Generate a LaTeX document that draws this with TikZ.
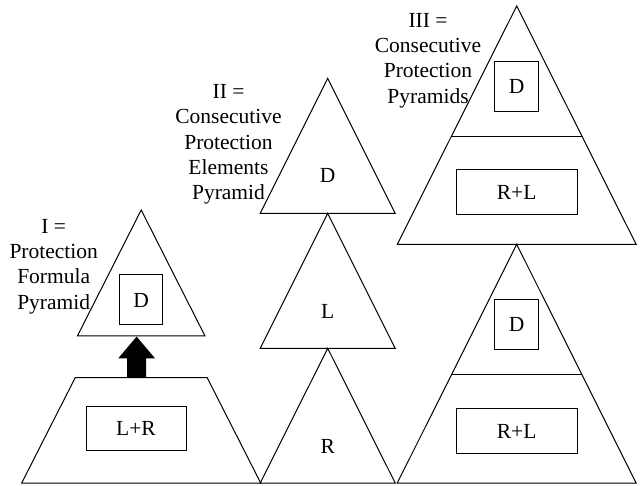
\documentclass[tikz,border=0pt]{standalone}
\usepackage{fontspec}
\setmainfont{Liberation Serif}

\begin{document}
\begin{tikzpicture}[x=1pt, y=-1pt, line width=1pt, line join=miter,
  box/.style={draw, fill=white, inner sep=0pt, font=\fontsize{21.5}{25.3}\selectfont},
  lbl/.style={inner sep=0pt, align=center, font=\fontsize{21.5}{25.3}\selectfont}]

  %% ════ 金字塔 I：三角形 + 梯形 + 上指箭头 ════
  \draw (141.2,210.0) -- (205.0,336.0) -- (77.4,336.0) -- cycle;
  \draw (75.2,377.7) -- (207.2,377.7) -- (260.7,483.0) -- (21.7,483.0) -- cycle;
  \fill (136.6,336.6) -- (155.0,358.3) -- (146.0,358.3) -- (146.0,377.7)
        -- (127.2,377.7) -- (127.2,358.3) -- (118.3,358.3) -- cycle;
  \node[box, minimum width=42.5pt, minimum height=50pt] (dI)  at (141.2,300.0) {D};
  \node[box, minimum width=100pt,  minimum height=44pt] (lrI) at (136.0,428.7) {L+R};

  %% ════ 金字塔 II：三个叠放的三角形 ════
  \draw (327.7,78.3)  -- (395.2,213.3) -- (260.2,213.3) -- cycle;
  \draw (327.7,213.3) -- (395.2,348.3) -- (260.2,348.3) -- cycle;
  \draw (327.7,348.3) -- (395.2,483.0) -- (260.2,483.0) -- cycle;
  \node[lbl] (dII) at (327.7,175.5) {D};
  \node[lbl] (lII) at (327.7,311.5) {L};
  \node[lbl] (rII) at (327.7,446.5) {R};

  %% ════ 金字塔 III：上下两个带分隔线的三角形 ════
  \draw (516.7,6.0) -- (636.1,244.3) -- (397.3,244.3) -- cycle;
  \draw (451.4,136.7) -- (582.0,136.7);
  \draw (516.7,244.3) -- (636.1,483.0) -- (397.3,483.0) -- cycle;
  \draw (451.4,375.0) -- (582.0,375.0);
  \node[box, minimum width=44pt,  minimum height=50pt] (dIIIa)  at (516.7,86.4)  {D};
  \node[box, minimum width=121pt, minimum height=45pt] (rlIIIa) at (516.7,192.5) {R+L};
  \node[box, minimum width=44pt,  minimum height=50pt] (dIIIb)  at (516.7,324.4) {D};
  \node[box, minimum width=121pt, minimum height=45pt] (rlIIIb) at (516.7,431.0) {R+L};

  %% ════ 说明文字 ════
  \node[lbl] (tI)   at (53.7,266.5)  {I =\\Protection\\Formula\\Pyramid};
  \node[lbl] (tII)  at (228.5,144.5) {II =\\Consecutive\\Protection\\Elements\\Pyramid};
  \node[lbl] (tIII) at (428.0,60.6)  {III =\\Consecutive\\Protection\\Pyramids};

  % 固定画布大小
  \pgfresetboundingbox
  \path[use as bounding box] (0,0) rectangle (643,486);
\end{tikzpicture}
\end{document}
